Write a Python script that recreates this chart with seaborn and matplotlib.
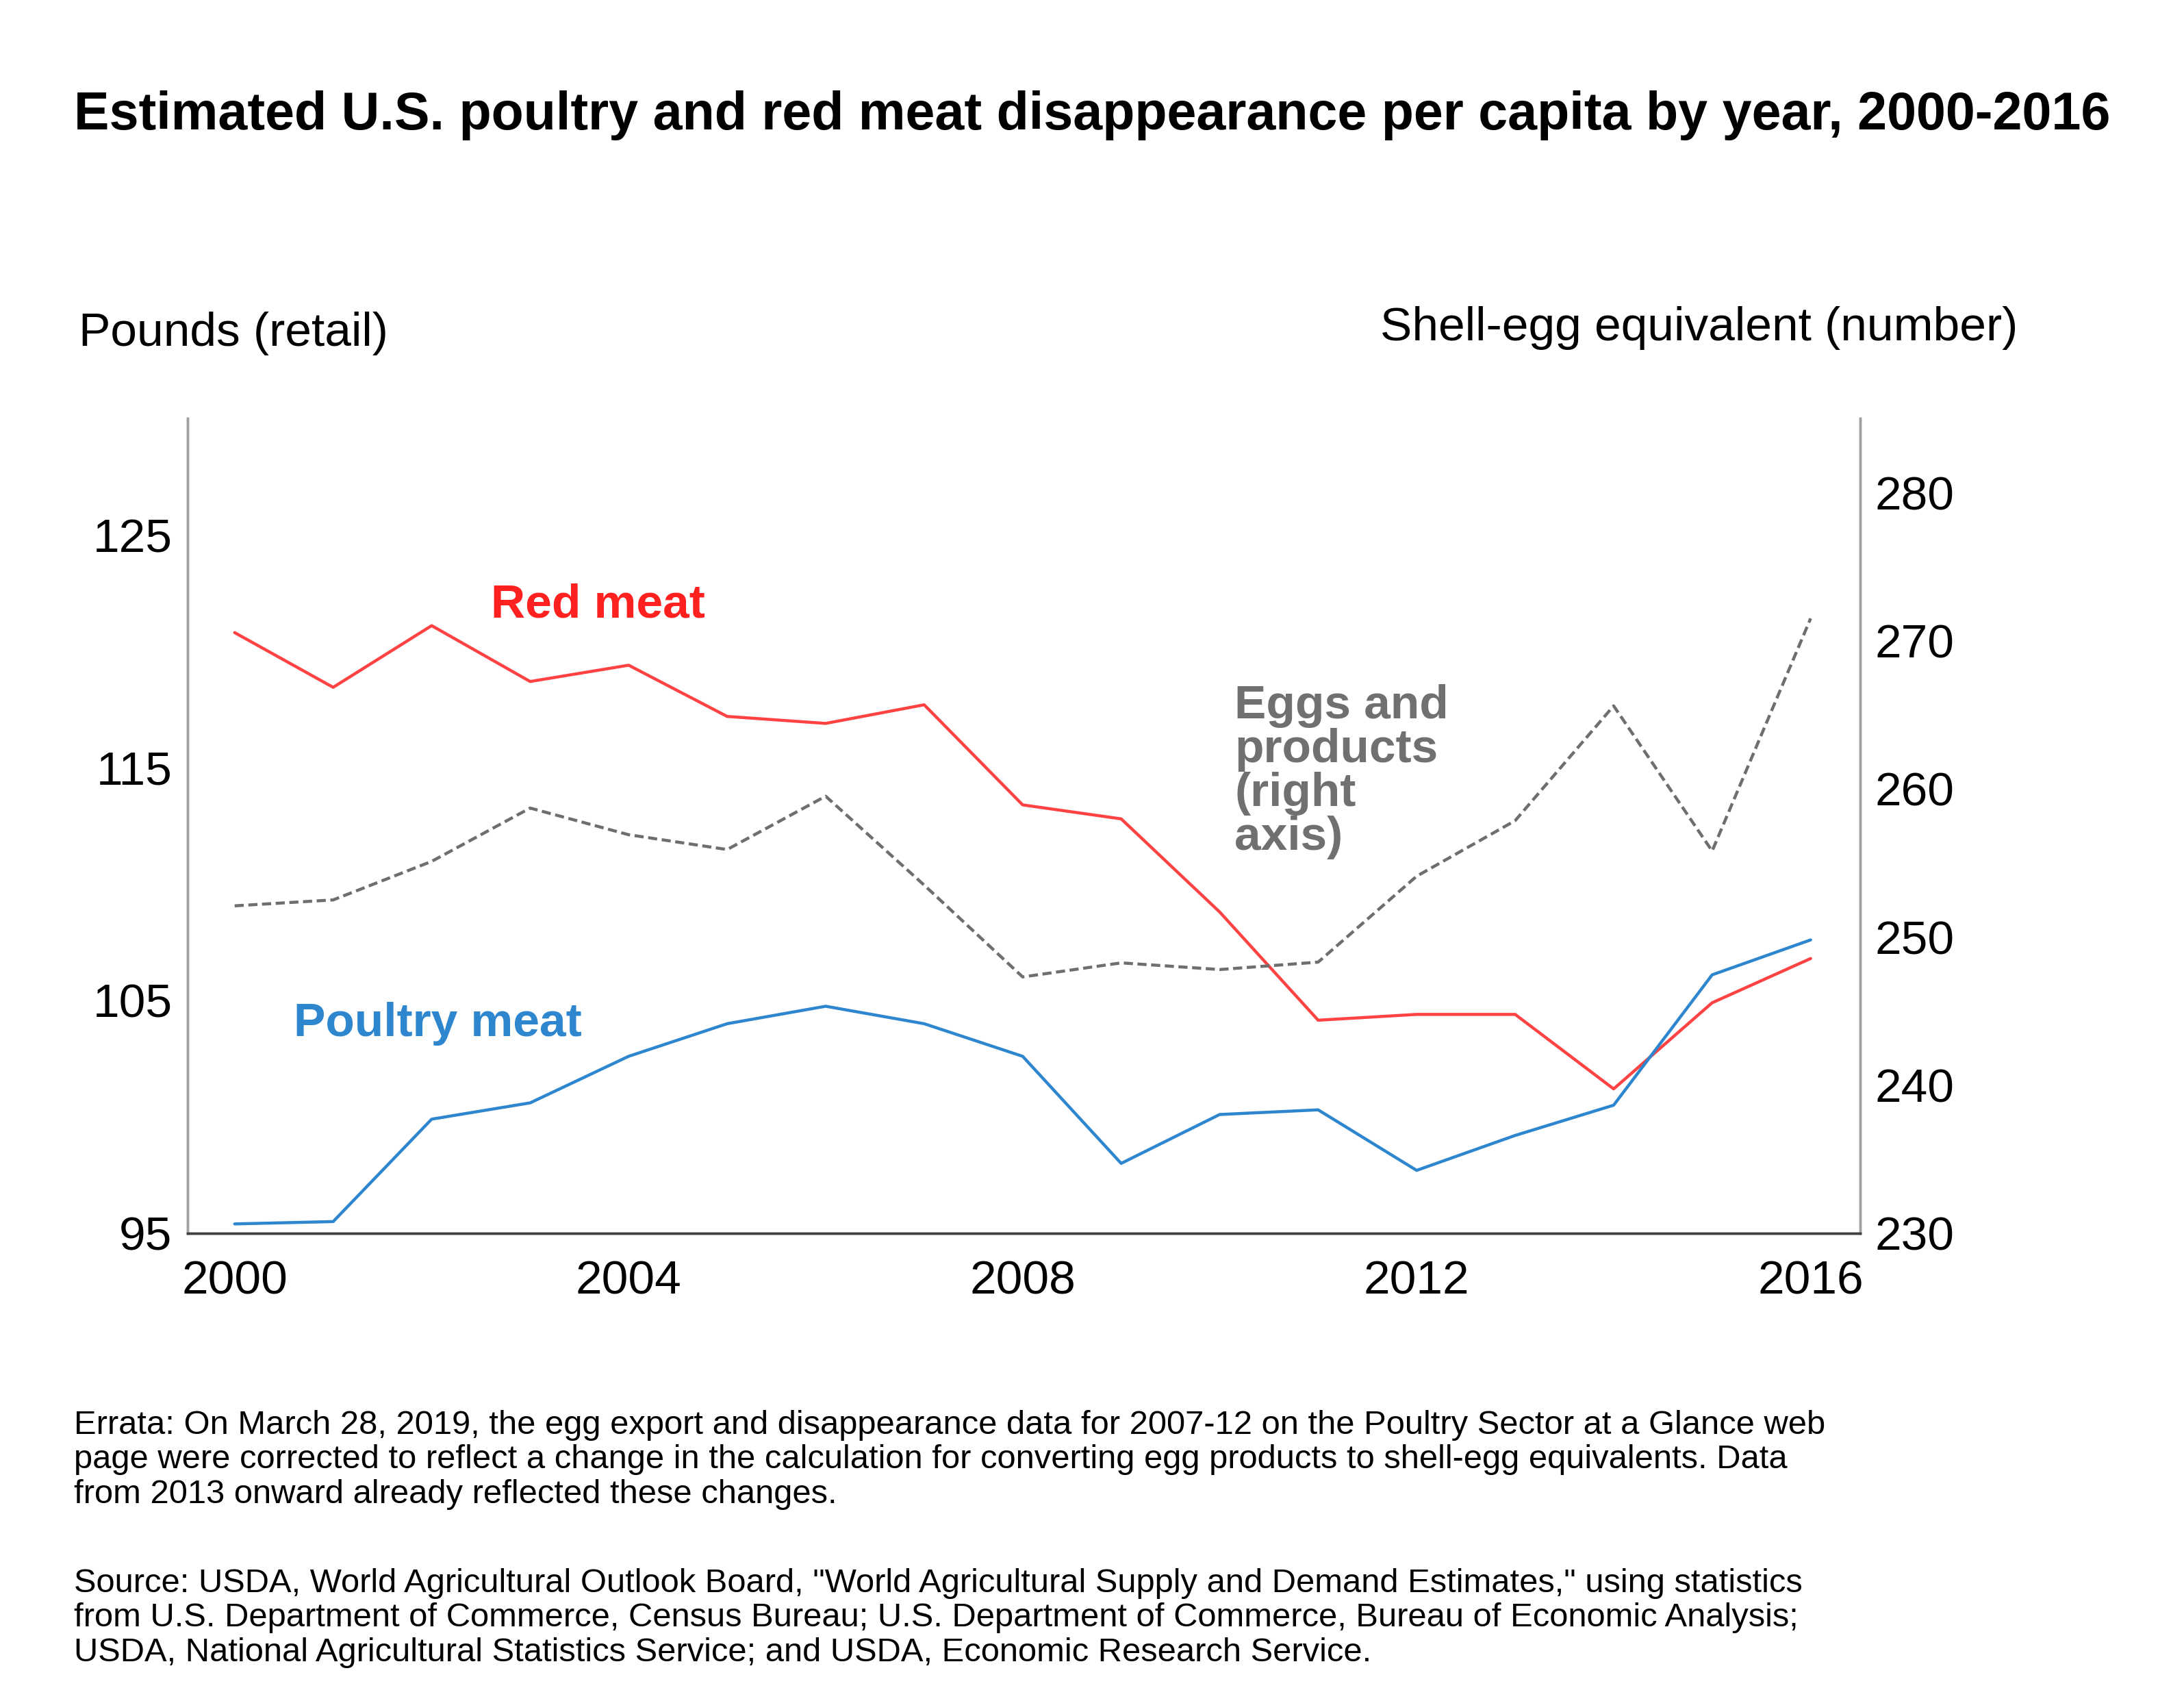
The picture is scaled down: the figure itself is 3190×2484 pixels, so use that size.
import matplotlib
matplotlib.use("Agg")
import matplotlib.pyplot as plt
import seaborn as sns
import pandas as pd

sns.set_theme(style="white")
plt.rcParams['font.family'] = ['Liberation Sans', 'DejaVu Sans']
plt.rcParams['text.color'] = 'black'
plt.rcParams['xtick.color'] = 'black'
plt.rcParams['ytick.color'] = 'black'

years = list(range(2000, 2017))
red_meat = [120.8, 118.45, 121.1, 118.7, 119.4, 117.2, 116.9, 117.7, 113.4, 112.8, 108.8, 104.15, 104.4, 104.4, 101.2, 104.9, 106.8]
poultry = [95.4, 95.5, 99.9, 100.6, 102.6, 104.0, 104.75, 104.0, 102.6, 98.0, 100.1, 100.3, 97.7, 99.2, 100.5, 106.1, 107.6]
eggs = [252.1, 252.5, 255.1, 258.7, 256.9, 255.9, 259.5, 253.5, 247.3, 248.25, 247.8, 248.3, 254.1, 257.85, 265.6, 255.8, 271.5]

df = pd.DataFrame({"year": years, "red": red_meat, "poultry": poultry, "eggs": eggs})

fig = plt.figure(figsize=(15.95, 12.42), dpi=200)
ax = fig.add_axes([0.0858, 0.275, 0.7658, 0.479])
ax2 = ax.twinx()

sns.lineplot(data=df, x="year", y="red", ax=ax, color="#FF4343", linewidth=1.6)
sns.lineplot(data=df, x="year", y="poultry", ax=ax, color="#2E86CF", linewidth=1.6)
sns.lineplot(data=df, x="year", y="eggs", ax=ax2, color="#6E6E6E", linewidth=1.6, linestyle=(0, (3, 1.5)))

ax.set_xlim(1999.52, 2016.5)
ax.set_ylim(95, 130)
ax2.set_ylim(230, 285)
ax.set_xticks([2000, 2004, 2008, 2012, 2016])
ax.set_yticks([95, 105, 115, 125])
ax2.set_yticks([230, 240, 250, 260, 270, 280])
for a in (ax, ax2):
    a.set_xlabel("")
    a.set_ylabel("")
    a.spines["top"].set_visible(False)
    for s in ("left", "right"):
        a.spines[s].set_color("#A0A0A0")
    a.spines["bottom"].set_color("#404040")
ax.tick_params(axis="both", labelsize=25, length=0, pad=8)
ax2.tick_params(axis="y", labelsize=25, length=0, pad=8)
ax.tick_params(axis="x", pad=14)

fig.text(0.5, 0.932, "Estimated U.S. poultry and red meat disappearance per capita by year, 2000-2016",
         ha="center", va="center", fontsize=27.8, fontweight="bold")
fig.text(0.036, 0.804, "Pounds (retail)", fontsize=25, va="center")
fig.text(0.632, 0.807, "Shell-egg equivalent (number)", fontsize=25, va="center")

ax.text(2002.6, 122.0, "Red meat", color="#FF2020", fontsize=25, fontweight="bold", va="center")
ax.text(2000.6, 104.0, "Poultry meat", color="#2E86CF", fontsize=25, fontweight="bold", va="center")
ax.text(2010.15, 118.6, "Eggs and\nproducts\n(right\naxis)", color="#707070", fontsize=25,
        fontweight="bold", va="top", linespacing=1.0)

fig.text(0.034, 0.171,
         "Errata: On March 28, 2019, the egg export and disappearance data for 2007-12 on the Poultry Sector at a Glance web\n"
         "page were corrected to reflect a change in the calculation for converting egg products to shell-egg equivalents. Data\n"
         "from 2013 onward already reflected these changes.",
         fontsize=17.6, va="top", linespacing=1.15)
fig.text(0.034, 0.078,
         "Source: USDA, World Agricultural Outlook Board, \"World Agricultural Supply and Demand Estimates,\" using statistics\n"
         "from U.S. Department of Commerce, Census Bureau; U.S. Department of Commerce, Bureau of Economic Analysis;\n"
         "USDA, National Agricultural Statistics Service; and USDA, Economic Research Service.",
         fontsize=17.6, va="top", linespacing=1.15)

fig.savefig("out.png", dpi=200)
